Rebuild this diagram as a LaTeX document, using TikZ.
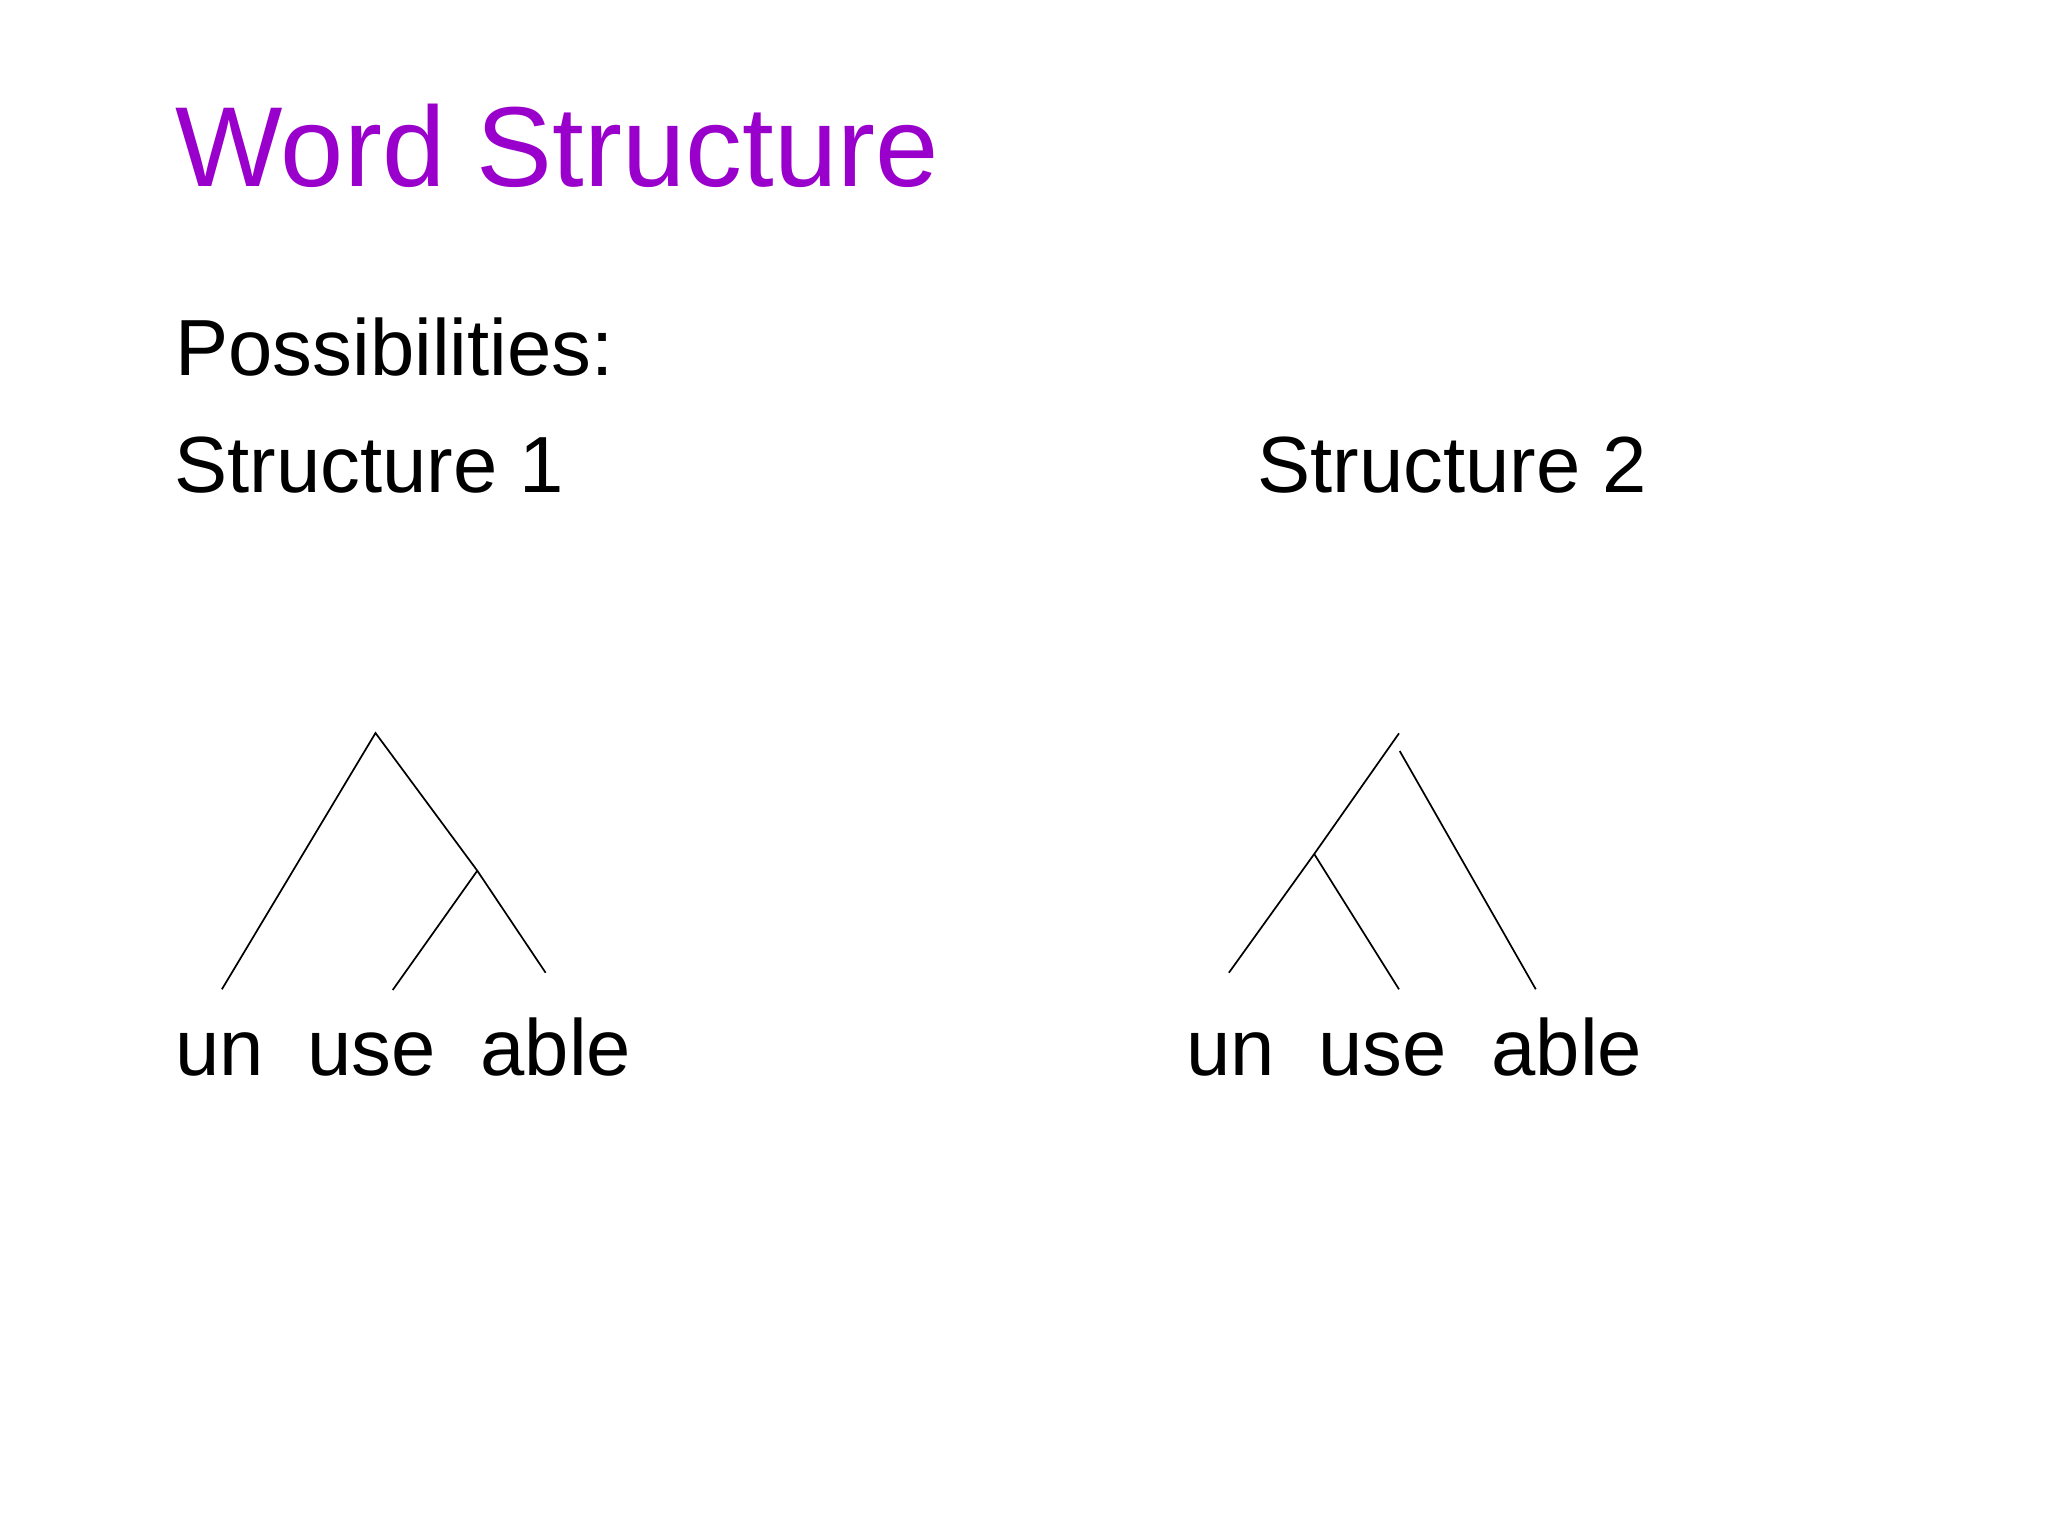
\documentclass[tikz,border=0pt]{standalone}
\usepackage{fontspec}
\setmainfont{Liberation Sans}
\definecolor{titlepurple}{HTML}{9900CC}
\tikzset{
  px/.style={x=0.3515625pt,y=-0.3515625pt},
  titletext/.style={anchor=base west,inner sep=0pt,text=titlepurple,font=\fontsize{40}{48}\selectfont},
  bodytext/.style={anchor=base west,inner sep=0pt,font=\fontsize{28}{34}\selectfont},
  branch/.style={draw=black,line width=0.6pt},
}
\begin{document}
\begin{tikzpicture}[px]
\useasboundingbox[fill=white] (0,0) rectangle (2048,1536);
\node[titletext] (title) at (175,187) {Word Structure};
\node[bodytext] (poss) at (175,376) {Possibilities:};
\node[bodytext] (s1) at (174,493) {Structure 1};
\node[bodytext] (s2) at (1257,493) {Structure 2};
% tree 1
\node[bodytext] (un1) at (174.5,1075) {un};
\node[bodytext] (use1) at (307,1075) {use};
\node[bodytext] (able1) at (480,1075) {able};
\coordinate (r1) at (375.5,733);
\coordinate (m1) at (477.3,870.7);
\coordinate (lun1) at (221.9,989.3);
\coordinate (luse1) at (392.7,990);
\coordinate (lable1) at (545.6,972.7);
\draw[branch] (lun1) -- (r1) -- (m1) -- (lable1);
\draw[branch] (m1) -- (luse1);
% tree 2
\node[bodytext] (un2) at (1185.5,1075) {un};
\node[bodytext] (use2) at (1318,1075) {use};
\node[bodytext] (able2) at (1491,1075) {able};
\coordinate (r2) at (1399,733.3);
\coordinate (r2b) at (1399.7,751);
\coordinate (m2) at (1314.2,854);
\coordinate (lun2) at (1228.9,972.7);
\coordinate (luse2) at (1399,989.3);
\coordinate (lable2) at (1535.8,989.3);
\draw[branch] (r2) -- (m2) -- (lun2);
\draw[branch] (m2) -- (luse2);
\draw[branch] (r2b) -- (lable2);
\end{tikzpicture}
\end{document}
